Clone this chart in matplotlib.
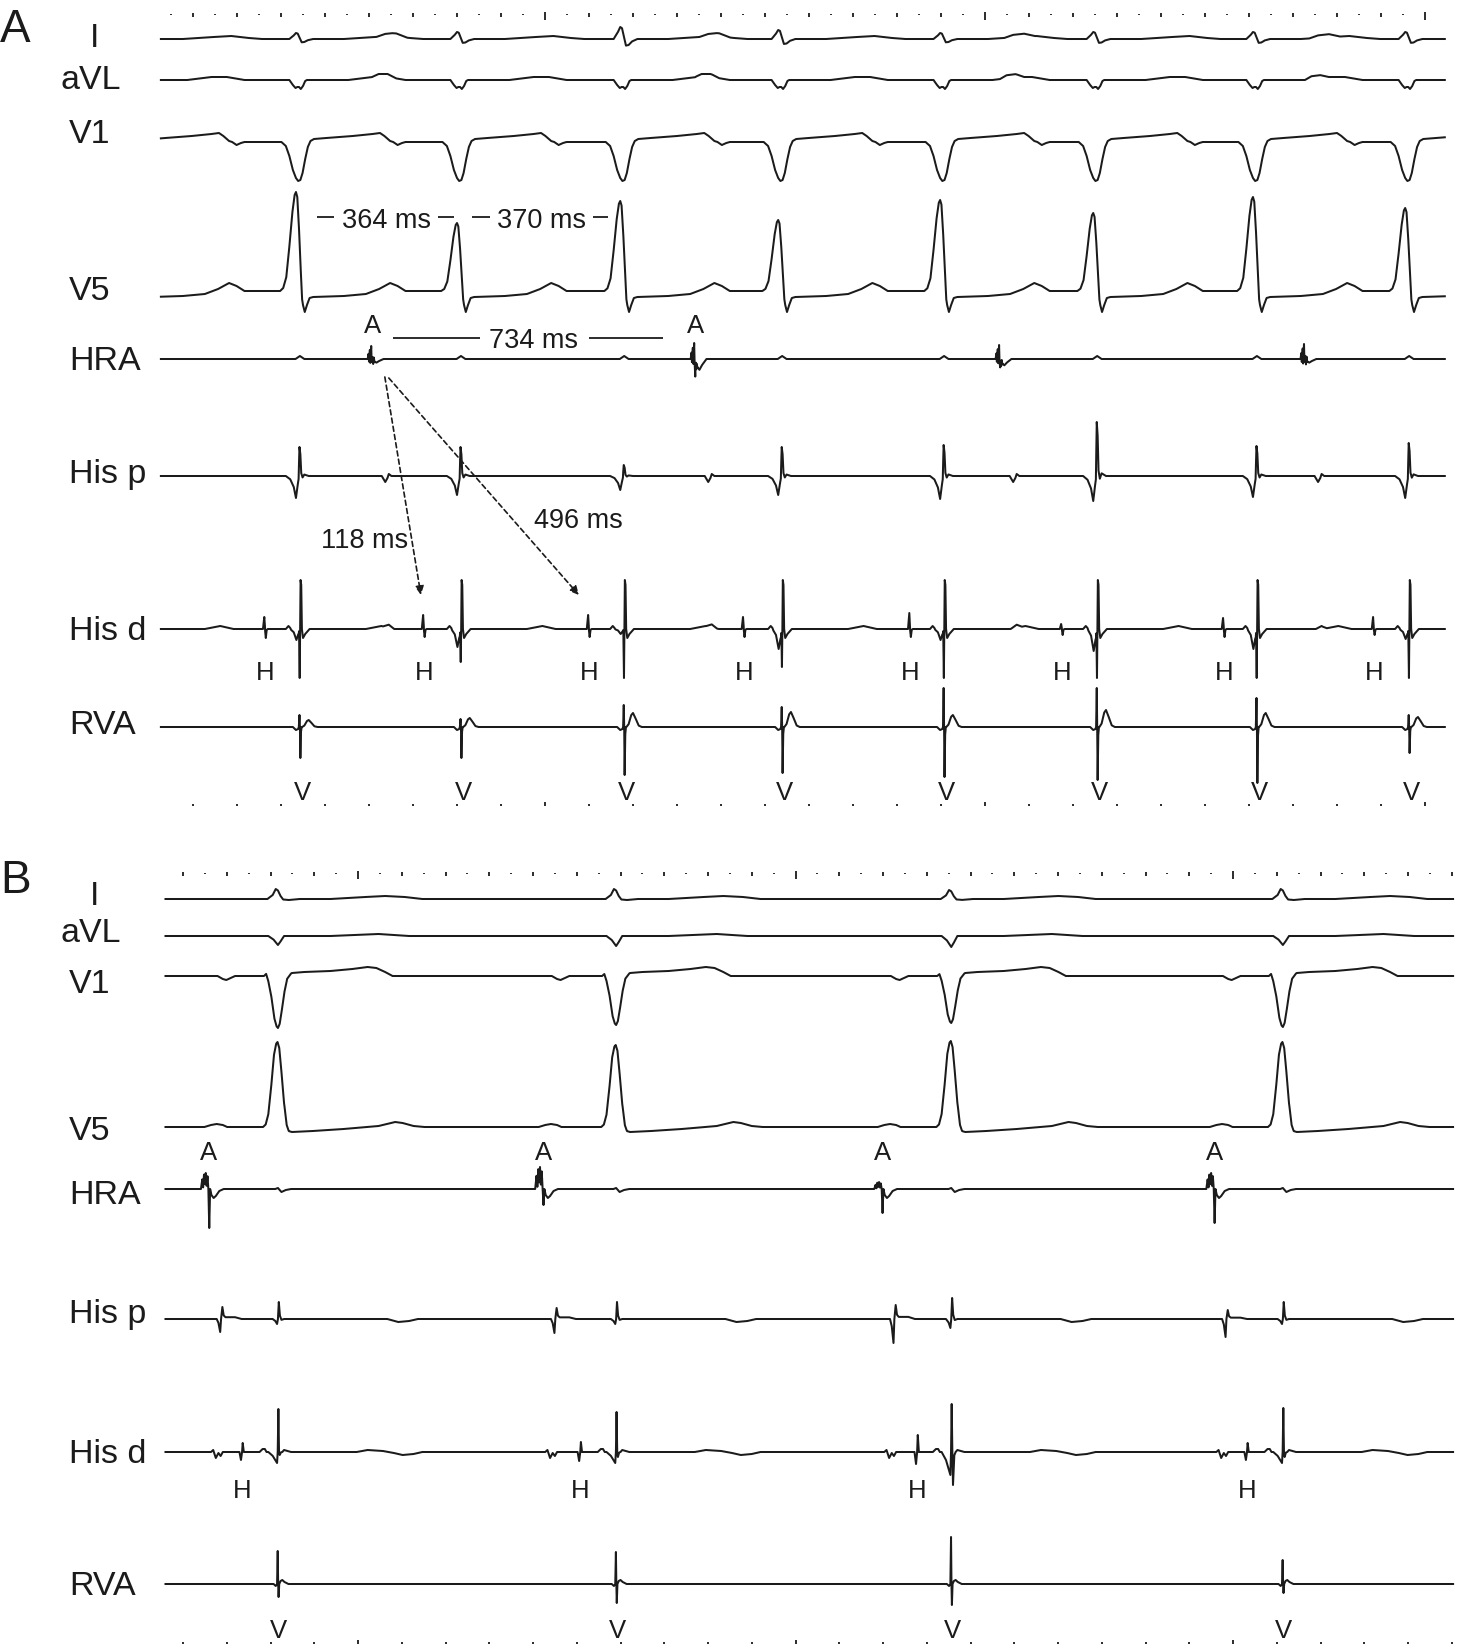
import numpy as np
import matplotlib.pyplot as plt

plt.rcParams['font.family'] = ['Liberation Sans', 'DejaVu Sans']
INK = '#1b1b1b'

# ---------------------------------------------------------------------------
# Panel A: event times in ms (V = RVA spike, H = His d spike, A = HRA spike)
# the first V sits just before the recorded window, only its T wave shows
a_v = [77, 443, 809, 1180, 1539, 1907, 2255, 2618, 2964]
a_h = [364, 725, 1100, 1452, 1830, 2175, 2543, 2884]
a_a = [607, 1341, 2034, 2727]
a_window = (127, 3045)

# per-beat amplitudes (px on the page)
a_i_peak = [7, 6, 7, 12, 9, 6, 7, 7, 7]
a_v5_peak = [90, 99, 68, 90, 71, 91, 78, 94, 83]
a_hisp_dip = [20, 22, 19, 14, 19, 23, 25, 21, 22]
a_hisp_up = [29, 29, 29, 11, 29, 31, 54, 30, 33]
a_hisd_down = [49, 49, 33, 49, 38, 49, 49, 49, 49]
a_hisd_pre = [11, 11, 18, 5, 20, 11, 22, 20, 10]
a_hisd_h_up = [12, 14, 14, 12, 16, 5, 11, 12]
a_hisd_h_down = [9, 8, 8, 8, 8, 6, 8, 6]
a_rva_up = [12, 12, 8, 22, 20, 39, 39, 29, 12]
a_rva_down = [30, 31, 31, 48, 46, 50, 53, 56, 26]
a_rva_bump = [10, 7, 9, 14, 15, 12, 17, 14, 10]
a_hra_up = [13, 16, 14, 15]
a_hra_down = [8, 24, 14, 8]

# Panel B
b_v = [817, 1590, 2356, 3114]
b_h = [735, 1508, 2278, 3032]
b_a = [659, 1423, 2198, 2957]
b_window = (560, 3503)

b_i_peak = [10, 10, 9, 10]
b_avl_dip = [9, 10, 11, 9]
b_v1_trough = [52, 49, 47, 51]
b_v5_peak = [85, 82, 86, 85]
b_hra_up = [16, 22, 7, 16]
b_hra_down = [39, 16, 24, 34]
b_hisp_a_down = [13, 14, 24, 18]
b_hisp_a_up = [12, 11, 14, 9]
b_hisp_pre = [5, 5, 9, 5]
b_hisp_up = [17, 17, 21, 17]
b_hisd_h_up = [9, 10, 17, 9]
b_hisd_h_down = [8, 9, 12, 8]
b_hisd_pre = [11, 11, 23, 11]
b_hisd_up = [43, 40, 48, 44]
b_hisd_post = [3, 5, 33, 5]
b_rva_up = [33, 32, 47, 24]
b_rva_down = [13, 19, 21, 9]

# ---------------------------------------------------------------------------
# waveform shapes: (ms from the event, amplitude) -- amplitude is either px
# or a fraction of the per-beat value it is scaled by
i_qrs = [(-24, 0), (-14, .6), (-9, 1), (-5, .9), (0, .1), (4, -.55), (10, -.5), (18, -.2), (30, 0)]
i_t = [(100, 0), (170, 2), (210, 3), (250, 1), (280, 0)]
i_p = [(10, 0), (30, 2.5), (55, 3), (80, 0)]
avl_qrs = [(-24, 0), (-16, -5), (-10, -8), (-6, -7), (-2, -7), (2, -9), (7, -6), (12, -1), (16, 0)]
avl_t = [(110, 0), (165, 3), (200, 3), (240, 0)]
avl_p = [(0, 0), (15, 3), (35, 3), (55, 0)]
v1_qrs = [(-42, 0), (-32, -4), (-24, -14), (-16, -28), (-9, -36), (-4, -39), (1, -38), (6, -31),
          (12, -17), (18, -5), (24, 1), (32, 3), (60, 4), (120, 6), (165, 8), (182, 9), (192, 6),
          (205, 1), (212, 0), (222, -3), (232, -1), (240, 0)]
v5_qrs = [(-45, 0), (-38, .03), (-31, .14), (-24, .45), (-17, .8), (-12, .97), (-9, 1), (-6, .95),
          (-2, .62), (2, .2), (5, 0)]
v5_st = [(2, 0), (7, -14), (11, -21), (16, -14), (22, -7), (30, -6), (100, -5), (150, -3),
         (180, 2), (205, 8), (222, 5), (240, 0)]
hra_burst = [(-10, 0), (-8, .4), (-7, -.2), (-5, .7), (-4, -.3), (-2, 1), (-1, -.2), (1, .6),
             (2.5, -.2), (4, .4), (5.5, 0)]
hra_drop = [(-1, 0), (.5, -1), (2, -.2), (3.5, -.5), (6, -.35), (10, -.45), (16, -.25), (26, 0)]
hra_far = [(-10, 0), (0, 3), (10, 0)]
hisp_dip = [(-32, 0), (-22, -.15), (-14, -.5), (-9, -1), (-5, -.4), (-2, 0)]
hisp_up = [(-3, 0), (-1, 1), (1, .75), (3, .1), (6, -.05), (10, .05), (20, 0)]
hisp_atr = [(22, 0), (30, -6), (35, -2), (38, 2), (44, 0)]
hisd_h_up = [(-5, 0), (-2, 1), (0, 0)]
hisd_h_down = [(-.5, 0), (1.5, -1), (3.5, -.1), (6, 0)]
hisd_bump = [(-32, 0), (-26, 3), (-20, 0)]
hisd_pre = [(-22, 0), (-14, -.3), (-8, -1), (-4, -.5), (-2.5, -.4), (-1.5, 0)]
hisd_down = [(-2, 0), (-.5, -1), (.5, 0)]
hisd_up = [(.5, 0), (1.5, 49), (3, 44), (4.5, 0), (7, -9), (12, -5), (22, 0)]
hisd_t = [(150, 0), (185, 3), (215, 0)]
hisd_atr = [(25, 0), (38, 3), (50, 0)]
rva_pre = [(-16, 0), (-9, -3), (-4, -2), (-2.5, 0)]
rva_up = [(-2.5, 0), (-1, 1), (0, 0)]
rva_down = [(0, 0), (1, -1), (2.5, -.15), (4, 0)]
rva_bump = [(5, 0), (10, .2), (16, .85), (20, 1), (26, .6), (33, .1), (40, 0)]

bi_qrs = [(-24, 0), (-12, .4), (-5, 1), (0, .85), (6, .3), (12, -.05), (25, -.1), (50, 0)]
bi_t = [(120, 0), (200, 2), (245, 3), (290, 2), (330, 0)]
bavl_qrs = [(-22, 0), (-10, -.4), (0, -1), (6, -.6), (14, 0)]
bavl_t = [(120, 0), (230, 2), (300, 0)]
bv1_qrs = [(-32, 0), (-27, .04), (-22, -.1), (-15, -.4), (-8, -.82), (-3, -.97), (0, -1), (4, -.92),
           (9, -.65), (15, -.3), (21, -.06), (30, 0)]
bv1_st = [(20, 0), (32, 3), (60, 4), (120, 5), (170, 7), (205, 9), (225, 8), (245, 4), (262, 0)]
bv1_p = [(20, 0), (32, -3), (40, -4), (50, -2), (60, 0)]
bv5_qrs = [(-34, 0), (-28, .03), (-22, .15), (-15, .5), (-9, .85), (-4, .98), (-1, 1), (3, .93),
           (8, .65), (14, .28), (20, .05), (25, 0)]
bv5_st = [(15, 0), (24, -4), (32, -5), (80, -4), (150, -2), (230, 1), (268, 5), (285, 4), (310, 1), (335, 0)]
bv5_p = [(-10, 0), (5, 2), (18, 3), (32, 2), (42, 0)]
bhra_burst = [(-18, 0), (-15, .6), (-13, .1), (-11, .9), (-9, .3), (-7, 1), (-5, .2), (-3, .8), (-1, 0)]
bhra_drop = [(-1, 0), (1, -1), (3, 0)]
bhra_tail = [(3, 0), (6, -6), (11, -9), (16, -7), (24, -2), (34, 0)]
bhra_far = [(-6, 0), (0, 1), (8, -3), (18, -1), (30, 0)]
bhisp_atr_down = [(18, 0), (22, -.3), (26, -1), (28, 0)]
bhisp_atr_up = [(28, 0), (31, 1), (34, .3), (38, .15), (60, .15), (75, 0)]
bhisp_pre = [(-12, 0), (-6, -.4), (-2, -1), (0, 0)]
bhisp_up = [(0, 0), (2, 1), (4.5, .2), (8, -.05), (14, 0)]
bhisp_t = [(250, 0), (275, -3), (300, -2), (320, 0)]
bhisd_atr = [(5, 0), (10, 2), (16, -6), (22, -1), (27, -4), (32, 0)]
bhisd_h_down = [(-6, 0), (-2.5, -1), (0, 0)]
bhisd_h_up = [(0, 0), (1.5, 1), (4, 0)]
bhisd_bump = [(-42, 0), (-35, 3), (-30, 3), (-26, 0)]
bhisd_pre = [(-22, 0), (-12, -.35), (-5, -.8), (-2, -1), (-.5, 0)]
bhisd_up = [(-.5, 0), (1, 1), (2.5, 0)]
bhisd_post = [(2.5, 0), (4, -1), (7, -.1), (10, 0)]
bhisd_tail = [(10, 0), (14, 2), (22, 1), (30, 0)]
bhisd_t = [(180, 0), (205, 2), (240, 1), (265, -1), (285, -3), (310, -2), (330, 0)]
brva_pre = [(-10, 0), (-5, -2), (-2, 0)]
brva_up = [(-2, 0), (-.5, 1), (.5, 0)]
brva_down = [(.5, 0), (1.5, -1), (3, 0)]
brva_tail = [(3, 0), (6, 3), (10, 4), (15, 2), (24, 0)]


def events(times, shape, scale=None):
    if scale is None:
        scale = [1] * len(times)
    return [(t, shape, s) for t, s in zip(times, scale)]


def build(window, evs):
    t0, t1 = window
    pts = {t0, t1}
    for t, shape, _ in evs:
        for dt, _a in shape:
            if t0 < t + dt < t1:
                pts.add(t + dt)
    tt = np.array(sorted(pts), float)
    yy = np.zeros_like(tt)
    for t, shape, s in evs:
        d = np.array(shape, float)
        yy += s * np.interp(tt, t + d[:, 0], d[:, 1], left=0, right=0)
    return tt, yy


# ---------------------------------------------------------------------------
W, H = 1458, 1647
fig = plt.figure(figsize=(W / 100, H / 100), dpi=100)
fig.patch.set_facecolor('white')


def page_axes(x0, px_per_ms):
    ax = fig.add_axes([0, 0, 1, 1])
    ax.set_xlim(-x0 / px_per_ms, (W - x0) / px_per_ms)
    ax.set_ylim(H, 0)
    ax.axis('off')
    ax.patch.set_visible(False)
    return ax


axA = page_axes(105, 0.44)
axB = page_axes(-79.5, 0.4375)
axT = fig.add_axes([0, 0, 1, 1])
axT.set_xlim(0, W)
axT.set_ylim(H, 0)
axT.axis('off')
axT.patch.set_visible(False)

# ---- panel A traces
a_rows = {
    'I': (39, events(a_v, i_qrs, a_i_peak) + events(a_v, i_t) + events(a_a, i_p)),
    'aVL': (80, events(a_v, avl_qrs) + events(a_v, avl_t) + events(a_a, avl_p)),
    'V1': (142, events(a_v, v1_qrs)),
    'V5': (291, events(a_v, v5_qrs, a_v5_peak) + events(a_v, v5_st)),
    'HRA': (359, events(a_a, hra_burst, a_hra_up) + events(a_a, hra_drop, a_hra_down)
            + events(a_v, hra_far)),
    'His p': (476, events(a_v, hisp_dip, a_hisp_dip) + events(a_v, hisp_up, a_hisp_up)
              + events(a_a, hisp_atr)),
    'His d': (629, events(a_h, hisd_h_up, a_hisd_h_up) + events(a_h, hisd_h_down, a_hisd_h_down)
              + events(a_v, hisd_bump) + events(a_v, hisd_pre, a_hisd_pre)
              + events(a_v, hisd_down, a_hisd_down) + events(a_v, hisd_up)
              + events(a_v, hisd_t) + events(a_a, hisd_atr)),
    'RVA': (727, events(a_v, rva_pre) + events(a_v, rva_up, a_rva_up)
            + events(a_v, rva_down, a_rva_down) + events(a_v, rva_bump, a_rva_bump)),
}
for name, (base, evs) in a_rows.items():
    tt, yy = build(a_window, evs)
    axA.plot(tt, base - yy, color=INK, lw=1.45, solid_joinstyle='round')

# ---- panel B traces
b_rows = {
    'I': (899, events(b_v, bi_qrs, b_i_peak) + events(b_v, bi_t)),
    'aVL': (936, events(b_v, bavl_qrs, b_avl_dip) + events(b_v, bavl_t)),
    'V1': (976, events(b_v, bv1_qrs, b_v1_trough) + events(b_v, bv1_st) + events(b_a, bv1_p)),
    'V5': (1127, events(b_v, bv5_qrs, b_v5_peak) + events(b_v, bv5_st) + events(b_a, bv5_p)),
    'HRA': (1189, events(b_a, bhra_burst, b_hra_up) + events(b_a, bhra_drop, b_hra_down)
            + events(b_a, bhra_tail) + events(b_v, bhra_far)),
    'His p': (1319, events(b_a, bhisp_atr_down, b_hisp_a_down) + events(b_a, bhisp_atr_up, b_hisp_a_up)
              + events(b_v, bhisp_pre, b_hisp_pre) + events(b_v, bhisp_up, b_hisp_up)
              + events(b_v, bhisp_t)),
    'His d': (1452, events(b_a, bhisd_atr) + events(b_h, bhisd_h_down, b_hisd_h_down)
              + events(b_h, bhisd_h_up, b_hisd_h_up) + events(b_v, bhisd_bump)
              + events(b_v, bhisd_pre, b_hisd_pre) + events(b_v, bhisd_up, b_hisd_up)
              + events(b_v, bhisd_post, b_hisd_post) + events(b_v, bhisd_tail)
              + events(b_v, bhisd_t)),
    'RVA': (1584, events(b_v, brva_pre) + events(b_v, brva_up, b_rva_up)
            + events(b_v, brva_down, b_rva_down) + events(b_v, brva_tail)),
}
for name, (base, evs) in b_rows.items():
    tt, yy = build(b_window, evs)
    axB.plot(tt, base - yy, color=INK, lw=1.45, solid_joinstyle='round')


# ---- timing marks
def timing_marks(ax, start, stop, y_top, y_bottom):
    top = np.arange(start, stop + 1, 50)
    for t in top:
        if t % 1000 == 0:
            ax.vlines(t, y_top - 2, y_top + 6, color=INK, lw=1.3)
        elif t % 100 == 0:
            ax.vlines(t, y_top - 1.5, y_top + 2.5, color=INK, lw=1.3)
        else:
            ax.vlines(t, y_top - 0.5, y_top + 1.2, color=INK, lw=1.3)
    bottom = np.arange(start + (start % 100), stop + 1, 100)
    for t in bottom:
        h = 3 if t % 1000 == 0 else 0.9
        ax.vlines(t, y_bottom - h, y_bottom + 0.9, color=INK, lw=1.3)


timing_marks(axA, 150, 3000, 14, 805)
timing_marks(axB, 600, 3500, 873, 1643)

# ---- channel labels
lab_fs = 24.5
a_lab_base = [47, 89, 143, 300, 370, 483, 640, 734]
b_lab_base = [905, 942, 993, 1140, 1204, 1323, 1463, 1595]
for bases in (a_lab_base, b_lab_base):
    for name, yb in zip(a_rows.keys(), bases):
        if name == 'I':
            axT.text(94.5, yb, name, fontsize=lab_fs, ha='center', va='baseline', color=INK)
        elif name == 'aVL':
            axT.text(61, yb, name, fontsize=lab_fs, ha='left', va='baseline', color=INK)
        else:
            axT.text(69, yb, name, fontsize=lab_fs, ha='left', va='baseline', color=INK)

axT.text(0, 42, 'A', fontsize=33, ha='left', va='baseline', color=INK)
axT.text(0, 893, 'B', fontsize=33, ha='left', va='baseline', color=INK)

# ---- event letters
ev_fs = 18.5
for t in a_a[:2]:
    axA.text(t, 333, 'A', fontsize=ev_fs, ha='center', va='baseline', color=INK)
for t in a_h:
    axA.text(t, 680, 'H', fontsize=ev_fs, ha='center', va='baseline', color=INK)
for t in a_v:
    if t > a_window[0]:
        axA.text(t + 5, 800, 'V', fontsize=ev_fs, ha='center', va='baseline', color=INK)
for t in b_a:
    axB.text(t, 1160, 'A', fontsize=ev_fs, ha='center', va='baseline', color=INK)
for t in b_h:
    axB.text(t, 1498, 'H', fontsize=ev_fs, ha='center', va='baseline', color=INK)
for t in b_v:
    axB.text(t + 2, 1638, 'V', fontsize=ev_fs, ha='center', va='baseline', color=INK)

# ---- interval annotations (panel A)
ann_fs = 19.5
axA.text(640, 228, '364 ms', fontsize=ann_fs, ha='center', va='baseline', color=INK)
axA.hlines([217, 217], [482, 757], [520, 793], color=INK, lw=1.3)
axA.text(991, 228, '370 ms', fontsize=ann_fs, ha='center', va='baseline', color=INK)
axA.hlines([217, 217], [834, 1108], [874, 1143], color=INK, lw=1.3)
axA.text(973, 348, '734 ms', fontsize=ann_fs, ha='center', va='baseline', color=INK)
axA.hlines([338, 338], [a_a[0] + 48, 1100], [853, a_a[1] - 73], color=INK, lw=1.3)

arrow = dict(arrowstyle='-|>', linestyle=(0, (3, 2)), lw=1.2, color=INK,
             mutation_scale=13, shrinkA=0, shrinkB=0)
axA.annotate('', xy=(a_h[1] - 7, 595), xytext=(a_a[0] + 29, 377), arrowprops=arrow)
axA.annotate('', xy=(a_h[2] - 23, 595), xytext=(a_a[0] + 38, 378), arrowprops=arrow)
axA.text(589, 548, '%d ms' % (a_h[1] - a_a[0]), fontsize=ann_fs, ha='center', va='baseline', color=INK)
axA.text(1076, 528, '496 ms', fontsize=ann_fs, ha='center', va='baseline', color=INK)

fig.savefig('out.png', dpi=100, facecolor='white')
